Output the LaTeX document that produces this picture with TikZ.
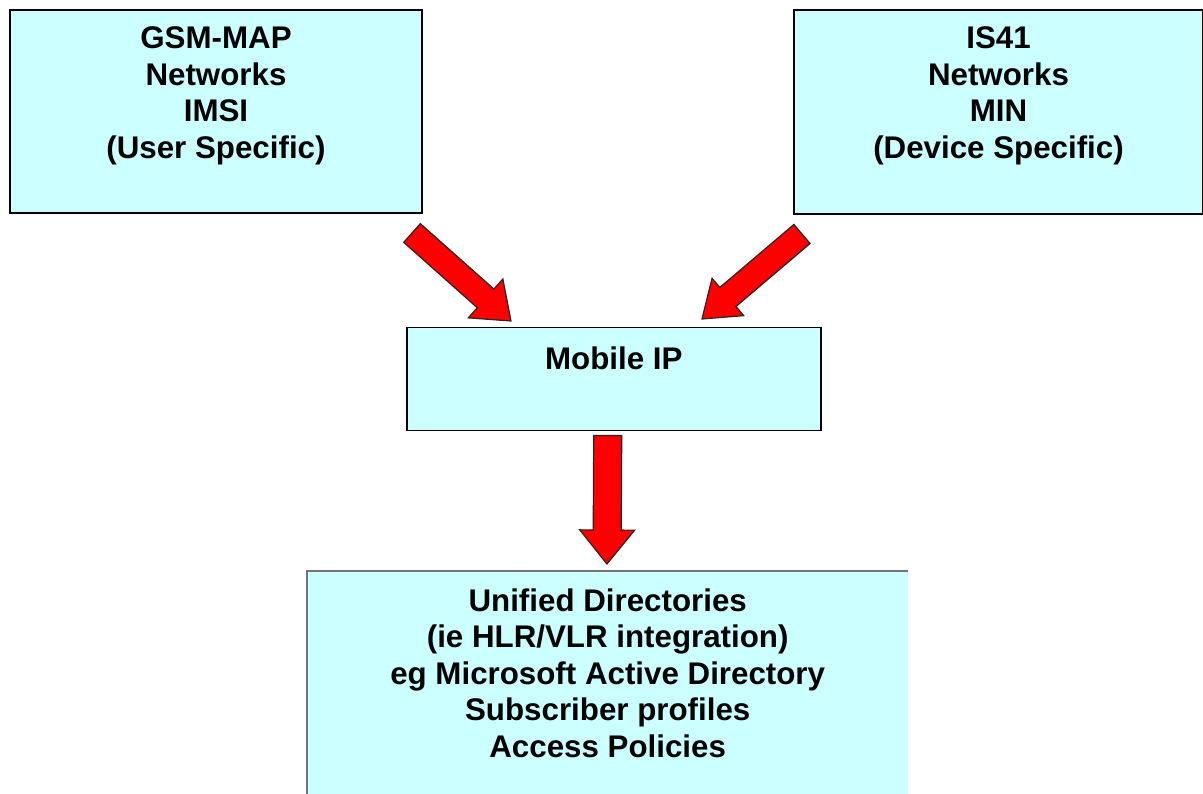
\documentclass[tikz,border=0pt]{standalone}
\usepackage{fontspec}
\setmainfont{Liberation Sans}
\usetikzlibrary{calc}

\definecolor{boxcyan}{HTML}{CCFFFF}
\definecolor{arrowred}{HTML}{FF0000}

\tikzset{
  netbox/.style={draw=black, line width=2pt, fill=boxcyan, inner sep=0pt, anchor=north west},
  openbox/.style={fill=boxcyan, inner sep=0pt, anchor=north west},
  boxtext/.style={font=\bfseries\fontsize{31.3}{36.5}\selectfont, align=center, inner sep=0pt},
  blockarrow/.style={fill=arrowred, draw=black!85, line width=1.2pt, line join=miter},
}

% Block arrow from #1 to #2: shaft half width #3, head half width #4, head length #5
\newcommand\blockarrowpath[5]{%
  \coordinate (bh) at ($(#2)!#5!(#1)$);
  \filldraw[blockarrow]
    ($(#1)!#3!90:(#2)$) -- ($(bh)!#3!-90:(#1)$) -- ($(bh)!#4!-90:(#1)$) -- (#2)
    -- ($(bh)!#4!90:(#1)$) -- ($(bh)!#3!90:(#1)$) -- ($(#1)!#3!-90:(#2)$) -- cycle;
}

\begin{document}
\begin{tikzpicture}[x=1pt, y=-1pt]
  \useasboundingbox (0,0) rectangle (1203,794);
  \clip (0,0) rectangle (1203,794);

  % network boxes
  \node[netbox, minimum width=412pt, minimum height=203pt] (gsm) at (9,9) {};
  \node[boxtext] (gsmtext) at ($(gsm.north)+(0,87)$)
    {GSM-MAP\\Networks\\IMSI\\(User Specific)};

  \node[netbox, minimum width=409pt, minimum height=204pt] (is41) at (793,9) {};
  \node[boxtext] (is41text) at ($(is41.north)+(0,87)$)
    {IS41\\Networks\\MIN\\(Device Specific)};

  % Mobile IP box
  \node[netbox, line width=1.5pt, minimum width=414pt, minimum height=103pt] (mip) at (406,327) {};
  \node[boxtext] (miptext) at ($(mip.north)+(0,31)$) {Mobile IP};

  % directory box, running past the lower and right edges
  \node[openbox, minimum width=601pt, minimum height=260pt] (dir) at (307,571) {};
  \draw[black!55, line width=2pt] (dir.south west) -- (dir.north west) -- (dir.north east);
  \node[boxtext] (dirtext) at ($(dir.north)+(0,102)$)
    {Unified Directories\\(ie HLR/VLR integration)\\eg Microsoft Active Directory\\Subscriber profiles\\Access Policies};

  % arrow end points
  \coordinate (la-s) at ($(gsm.south east)+(-11,19)$);
  \coordinate (la-t) at ($(mip.north west)+(105,-6)$);
  \coordinate (ra-s) at ($(is41.south west)+(9,19)$);
  \coordinate (ra-t) at ($(mip.north west)+(296,-8)$);
  \coordinate (da-s) at ($(mip.south)+(-6,4)$);
  \coordinate (da-t) at ($(dir.north west)+(300,-7)$);

  % arrows
  \blockarrowpath{la-s}{la-t}{12.5pt}{26pt}{34pt}
  \blockarrowpath{ra-s}{ra-t}{12.5pt}{24.5pt}{34pt}
  \blockarrowpath{da-s}{da-t}{14pt}{27.5pt}{34pt}
\end{tikzpicture}
\end{document}
